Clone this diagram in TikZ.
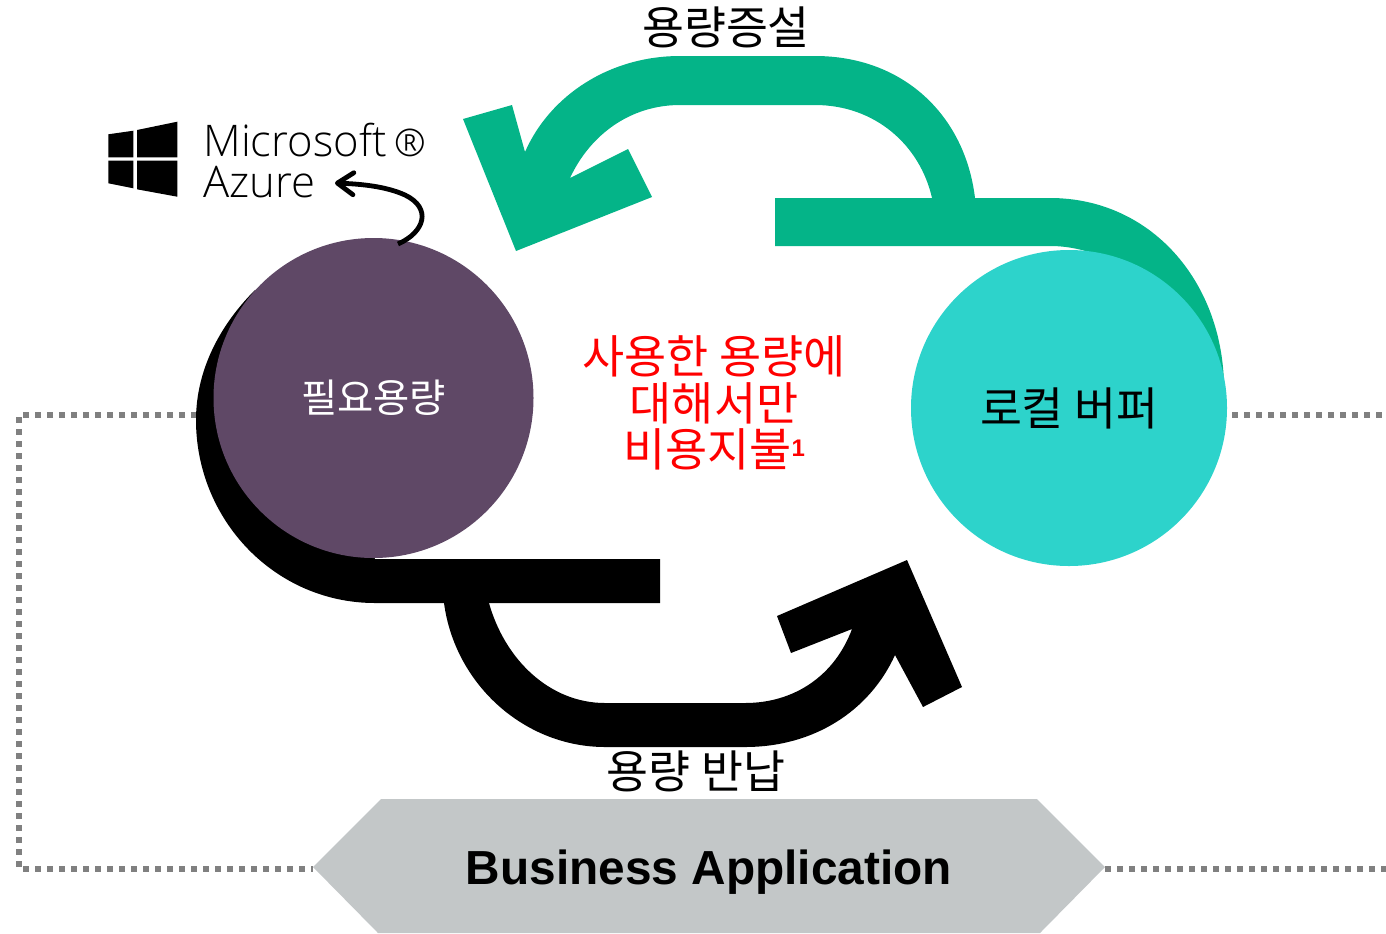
\documentclass[tikz,border=0pt]{standalone}
\usepackage{fontspec}
\usetikzlibrary{arrows.meta}
\setmainfont{Liberation Sans}
\newfontfamily\krfont{Noto Sans CJK KR}
\newfontfamily\azfont{Open Sans Light}
\definecolor{grn}{HTML}{04B488}
\definecolor{teal}{HTML}{2DD3CB}
\definecolor{plum}{HTML}{5F4866}
\definecolor{hexgray}{HTML}{C3C7C8}
\definecolor{dotgray}{HTML}{808080}
\tikzset{
  dots/.style={draw=dotgray,line width=3pt,dash pattern=on 3pt off 3pt},
  kr/.style={font=\krfont\fontsize{22.8}{24}\selectfont,align=center,inner sep=0pt},
  circ/.style={circle,minimum size=#1,inner sep=0pt,draw=none},
  azure/.style={font=\azfont\fontsize{21.8}{24}\selectfont,anchor=base west,inner sep=0pt,text=black}
}
\begin{document}
\begin{tikzpicture}[x=0.5pt,y=-0.5pt]
\useasboundingbox (0,0) rectangle (1386,933);
% dotted lines
\coordinate (lt) at (197,415); \coordinate (lc1) at (19,415); \coordinate (lc2) at (19,869);
\coordinate (hl) at (313,869); \coordinate (hr) at (1105,869);
\coordinate (re1) at (1386,415); \coordinate (rs1) at (1232,415); \coordinate (re2) at (1386,869);
\draw[dots] (lt) -- (lc1) -- (lc2) -- (hl);
\draw[dots] (rs1) -- (re1);
\draw[dots] (hr) -- (re2);
% hexagon
\fill[hexgray] (381,799) -- (1037,799) -- (1105,867) -- (1040,933) -- (378,933) -- (313,867) -- cycle;
\node[font=\bfseries\fontsize{23.9}{24}\selectfont,inner sep=0pt] (biz) at (709,872) {Business Application};
% green band
\fill[grn] (775,198) -- (1050,198) .. controls (1150,198) and (1222,280) .. (1224,385)
  -- (1224,420) -- (1150,300) .. controls (1130,265) and (1090,246) .. (1050,246) -- (775,246) -- cycle;
% green arch arrow
\fill[grn] (975,198) .. controls (965,115) and (903,56) .. (815,56) -- (680,56)
  .. controls (610,56) and (550,95) .. (525,152) -- (512,105) -- (463,119) -- (516,251) -- (652,197) -- (628,149) -- (570,178)
  .. controls (590,135) and (630,105) .. (680,105) -- (815,105)
  .. controls (875,105) and (920,145) .. (932,198) -- cycle;
% black band
\fill[black] (660,559) -- (375,559) -- (255,290) .. controls (220,325) and (196,370) .. (196,420)
  .. controls (196,520) and (275,603) .. (375,603) -- (660,603) -- cycle;
% black arch arrow
\fill[black] (444,603) .. controls (455,685) and (525,747) .. (605,747) -- (745,747)
  .. controls (815,747) and (870,710) .. (895,655) -- (923,707) -- (962,687) -- (907,560) -- (777,616) -- (791,653) -- (852,629)
  .. controls (835,675) and (795,703) .. (745,703) -- (605,703)
  .. controls (550,703) and (505,660) .. (489,603) -- cycle;
% circles
\node[circ=160pt,fill=plum,text=white,kr,font=\krfont\fontsize{19.7}{22}\selectfont] (need) at (373.5,398) {필요용량};
\node[circ=158pt,fill=teal,text=black,kr] (buf) at (1069,408) {로컬 버퍼};
% labels
\node[kr] (top) at (726,27) {용량증설};
\node[kr] (bot) at (696,771) {용량 반납};
\node[kr,text=red,font=\krfont\fontsize{22.9}{23.2}\selectfont] (mid) at (714,403) {사용한 용량에\\대해서만\\비용지불{\rmfamily\bfseries\fontsize{12}{12}\selectfont\raisebox{5pt}{1}}};
% windows logo
\fill[black] (108.3,134.3) -- (133.3,130.7) -- (133.3,157.3) -- (108.3,157.3) -- cycle;
\fill[black] (137,130) -- (177.3,121.7) -- (177.3,157.3) -- (137,157.3) -- cycle;
\fill[black] (108.3,160.7) -- (133.3,160.7) -- (133.3,188.3) -- (108.3,183.3) -- cycle;
\fill[black] (137,160.7) -- (177.3,160.7) -- (177.3,196.7) -- (137,189.3) -- cycle;
\node[azure] (ms) at (203,156) {Microsoft\,{\fontsize{19}{19}\selectfont ®}};
\node[azure] (az) at (203,197) {Azure};
% small arrow
\coordinate (as) at (398,244);
\coordinate (ae) at (335,183);
\draw[line width=2.4pt,-{Straight Barb[length=8pt,width=11pt,line cap=round,round]}] (as) .. controls (425,232) and (432,208) .. (405,195) .. controls (385,186) and (360,184) .. (ae);
\end{tikzpicture}
\end{document}
